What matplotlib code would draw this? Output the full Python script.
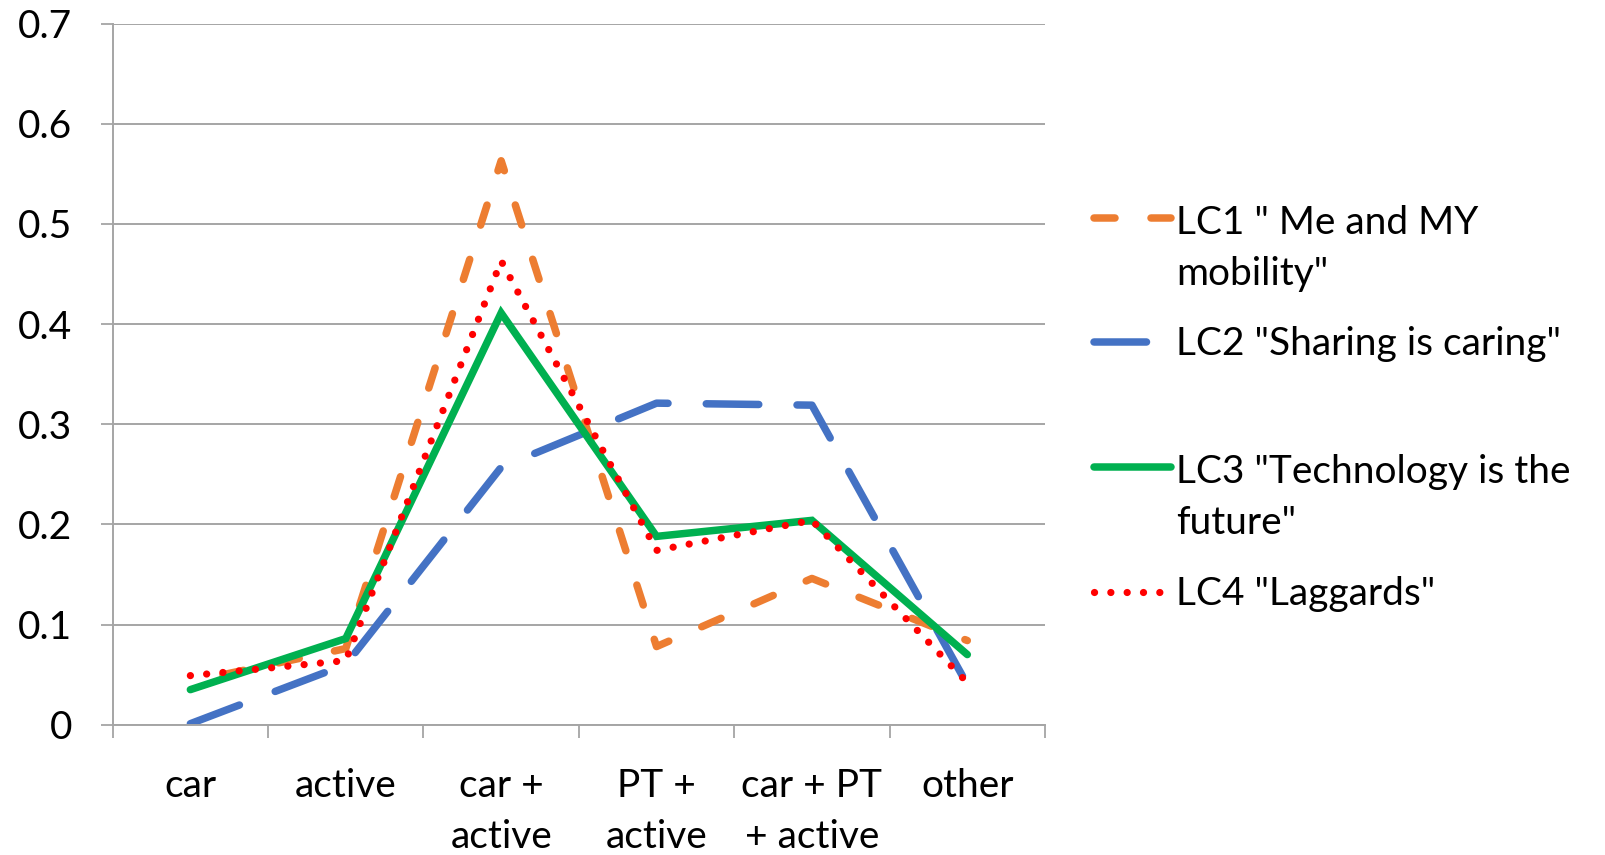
import matplotlib
matplotlib.use("Agg")
import matplotlib.pyplot as plt
from matplotlib.lines import Line2D

categories = ["car", "active", "car +\nactive", "PT +\nactive", "car + PT\n+ active", "other"]
lc1 = [0.043, 0.076, 0.563, 0.078, 0.146, 0.084]
lc2 = [0.001, 0.060, 0.257, 0.321, 0.319, 0.040]
lc3 = [0.035, 0.086, 0.411, 0.188, 0.204, 0.070]
lc4 = [0.049, 0.064, 0.463, 0.174, 0.204, 0.042]
series_labels = ['LC1 " Me and MY\nmobility"', 'LC2 "Sharing is caring"',
                 'LC3 "Technology is the\nfuture"', 'LC4 "Laggards"']
yticks = [0, 0.1, 0.2, 0.3, 0.4, 0.5, 0.6, 0.7]
ytick_labels = ["0", "0.1", "0.2", "0.3", "0.4", "0.5", "0.6", "0.7"]

plt.rcParams["font.family"] = ["Lato", "DejaVu Sans"]
FS = 28
LS = 1.51
GRAY = "#A5A5A5"

styles = [
    dict(color="#ED7D31", lw=5.4, linestyle=(3.16, (2.8, 4.8)), dash_capstyle="round"),
    dict(color="#4472C4", lw=5.4, dashes=(7.0, 5.1), dash_capstyle="round"),
    dict(color="#00B050", lw=5.4, solid_capstyle="round", solid_joinstyle="miter"),
    dict(color="#FF0000", lw=5.2, dashes=(0.01, 2.25), dash_capstyle="round"),
]

fig = plt.figure(figsize=(16.05, 8.55), dpi=100)
ax = fig.add_axes([0.0702, 0.1524, 0.5809, 0.8201])

x = list(range(len(categories)))
for vals, st in zip([lc1, lc2, lc3, lc4], styles):
    ax.plot(x, vals, **st)

ax.set_xlim(-0.5, len(categories) - 0.5)
ax.set_ylim(0, 0.7)
ax.set_yticks(yticks)
ax.set_yticklabels(ytick_labels, fontsize=FS)
ax.set_xticks([i - 0.5 for i in range(len(categories) + 1)])
ax.set_xticklabels([])
ax.set_xticks(x, minor=True)
ax.set_xticklabels(categories, minor=True, fontsize=FS, linespacing=LS)
ax.tick_params(axis="x", which="major", length=9, width=1.3, color=GRAY)
ax.tick_params(axis="x", which="minor", length=0, pad=31)
ax.tick_params(axis="y", length=9, width=1.3, color=GRAY, pad=20)

ax.grid(axis="y", color=GRAY, lw=1.4)
ax.set_axisbelow(True)
for s in ["top", "right"]:
    ax.spines[s].set_visible(False)
for s in ["left", "bottom"]:
    ax.spines[s].set_color(GRAY)
    ax.spines[s].set_linewidth(1.4)

# legend drawn by hand to copy the spacing of the original
leg_y = [218, 342, 467, 592]
for yy, lab, st in zip(leg_y, series_labels, styles):
    yf = 1 - yy / 855
    st = dict(st)
    if "linestyle" in st:
        st["linestyle"] = (0, st["linestyle"][1])
    ln = Line2D([1094 / 1605, 1171 / 1605], [yf, yf], transform=fig.transFigure, **st)
    fig.add_artist(ln)
    n_extra = lab.count("\n")
    base = yy + 13 + 54 * n_extra
    fig.text(1176 / 1605, 1 - base / 855, lab, fontsize=FS, va="baseline",
             ha="left", linespacing=LS)

fig.savefig("out.png", dpi=100)
